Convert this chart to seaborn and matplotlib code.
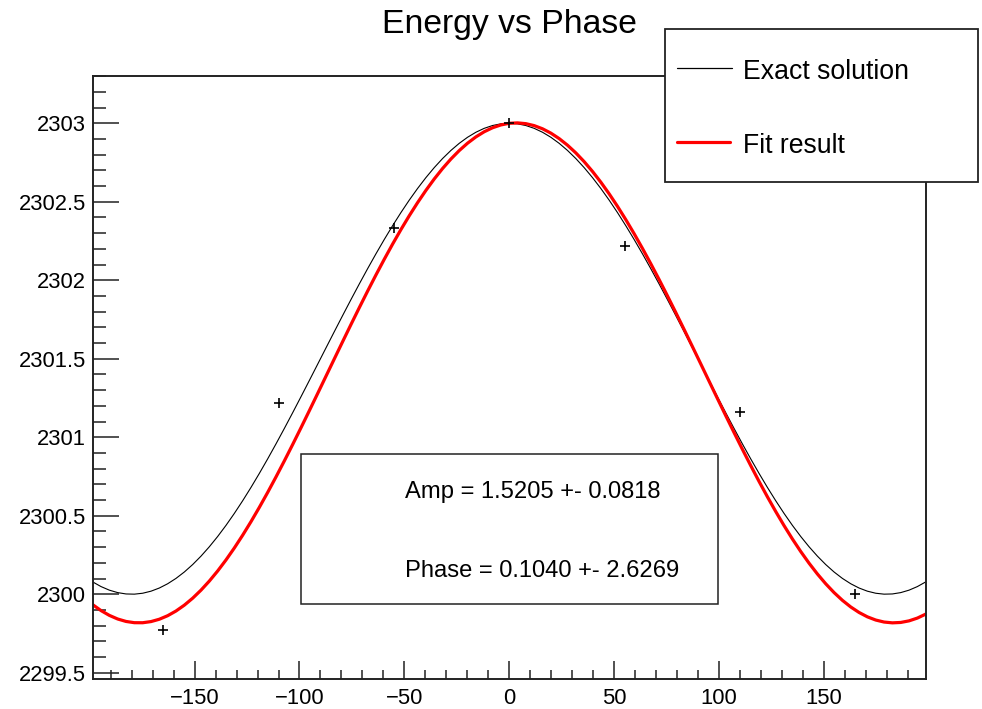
import numpy as np
import pandas as pd
import matplotlib
matplotlib.use("Agg")
import matplotlib.pyplot as plt
import seaborn as sns
from matplotlib.ticker import MultipleLocator, FixedLocator, FixedFormatter
from matplotlib.patches import Rectangle
from matplotlib.lines import Line2D

# ---------------- data ----------------
phase_points = [-165, -110, -55, 0, 55, 110, 165]
energy_points = [2299.77, 2301.22, 2302.33, 2303.00, 2302.22, 2301.16, 2300.00]

# function curves (TF1-style): offset + amp * cos(phase - shift)
exact_offset = 2301.5
exact_amp = 1.5
exact_shift = 0.0
fit_offset = 2301.41
fit_amp = 1.5925
fit_shift = 3.4
n_curve_points = 100

x_range = [-198.6, 198.6]
y_range = [2299.458, 2303.303]

x_ticks = [-150, -100, -50, 0, 50, 100, 150]
x_labels = ["\u2212150", "\u2212100", "\u221250", "0", "50", "100", "150"]
y_ticks = [2299.5, 2300, 2300.5, 2301, 2301.5, 2302, 2302.5, 2303]
y_labels = ["2299.5", "2300", "2300.5", "2301", "2301.5", "2302", "2302.5", "2303"]

title = "Energy vs Phase"
legend_labels = ["Exact solution", "Fit result"]
stats_lines = ["Amp = 1.5205 +- 0.0818", "Phase = 0.1040 +- 2.6269"]

# ---------------- build curve tables ----------------
grid = np.linspace(x_range[0], x_range[1], n_curve_points + 1)
exact_df = pd.DataFrame({
    "phase": grid,
    "energy": exact_offset + exact_amp * np.cos(np.deg2rad(grid - exact_shift)),
})
fit_df = pd.DataFrame({
    "phase": grid,
    "energy": fit_offset + fit_amp * np.cos(np.deg2rad(grid - fit_shift)),
})
pts_df = pd.DataFrame({"phase": phase_points, "energy": energy_points})

# ---------------- style ----------------
sns.set_style("white")
plt.rcParams["font.family"] = ["Liberation Sans", "DejaVu Sans"]
plt.rcParams["text.color"] = "black"

W, H = 982, 709
fig = plt.figure(figsize=(W / 100, H / 100), dpi=100)
ax_l, ax_r, ax_t, ax_b = 92.7, 925.7, 75.7, 679.3
ax = fig.add_axes([ax_l / W, 1 - ax_b / H, (ax_r - ax_l) / W, (ax_b - ax_t) / H])

sns.lineplot(data=exact_df, x="phase", y="energy", ax=ax, color="black",
             linewidth=0.8, estimator=None, sort=False)
sns.lineplot(data=fit_df, x="phase", y="energy", ax=ax, color="#ff0000",
             linewidth=2.3, estimator=None, sort=False)
sns.scatterplot(data=pts_df, x="phase", y="energy", ax=ax, marker="+",
                color="black", s=45, linewidth=1.2, zorder=5)

ax.set_xlim(*x_range)
ax.set_ylim(*y_range)
ax.set_xlabel("")
ax.set_ylabel("")

ax.xaxis.set_major_locator(FixedLocator(x_ticks))
ax.xaxis.set_major_formatter(FixedFormatter(x_labels))
ax.yaxis.set_major_locator(FixedLocator(y_ticks))
ax.yaxis.set_major_formatter(FixedFormatter(y_labels))
ax.xaxis.set_minor_locator(MultipleLocator(10))
ax.yaxis.set_minor_locator(MultipleLocator(0.1))

ax.tick_params(axis="both", which="both", direction="in", top=False, right=False,
               bottom=True, left=True, color="#222222", width=1.1,
               labelcolor="black")
ax.tick_params(axis="y", which="major", length=18.7, pad=4.8, labelsize=15.8)
ax.tick_params(axis="y", which="minor", length=9.4)
ax.tick_params(axis="x", which="major", length=12.7, pad=6.2, labelsize=15.8)
ax.tick_params(axis="x", which="minor", length=6.3)
for sp in ax.spines.values():
    sp.set_color("#222222")
    sp.set_linewidth(1.4)

# ---------------- title ----------------
fig.text(509 / W, 1 - 33.3 / H, title, ha="center", va="baseline", fontsize=24.3)

# ---------------- legend box ----------------
lx0, ly0, lx1, ly1 = 665, 29.3, 978.3, 181.7
fig.add_artist(Rectangle((lx0 / W, 1 - ly1 / H), (lx1 - lx0) / W, (ly1 - ly0) / H,
                         transform=fig.transFigure, facecolor="white",
                         edgecolor="#222222", linewidth=1.3, zorder=10))
fig.add_artist(Line2D([677 / W, 732 / W], [1 - 67.7 / H, 1 - 67.7 / H],
                      transform=fig.transFigure, color="black", linewidth=0.9, zorder=11))
fig.add_artist(Line2D([677 / W, 730 / W], [1 - 142.3 / H, 1 - 142.3 / H],
                      transform=fig.transFigure, color="#ff0000", linewidth=2.3, zorder=11))
fig.text(743 / W, 1 - 79.3 / H, legend_labels[0], ha="left", va="baseline",
         fontsize=19.2, zorder=12)
fig.text(743 / W, 1 - 153.3 / H, legend_labels[1], ha="left", va="baseline",
         fontsize=19.2, zorder=12)

# ---------------- stats box ----------------
sx0, sy0, sx1, sy1 = 300.7, 454, 718.3, 604.3
fig.add_artist(Rectangle((sx0 / W, 1 - sy1 / H), (sx1 - sx0) / W, (sy1 - sy0) / H,
                         transform=fig.transFigure, facecolor="white",
                         edgecolor="#222222", linewidth=1.1, zorder=10))
fig.text(405 / W, 1 - 498.3 / H, stats_lines[0], ha="left", va="baseline",
         fontsize=17.1, zorder=12)
fig.text(405 / W, 1 - 576.7 / H, stats_lines[1], ha="left", va="baseline",
         fontsize=17.1, zorder=12)

fig.savefig("out.png", dpi=100)
